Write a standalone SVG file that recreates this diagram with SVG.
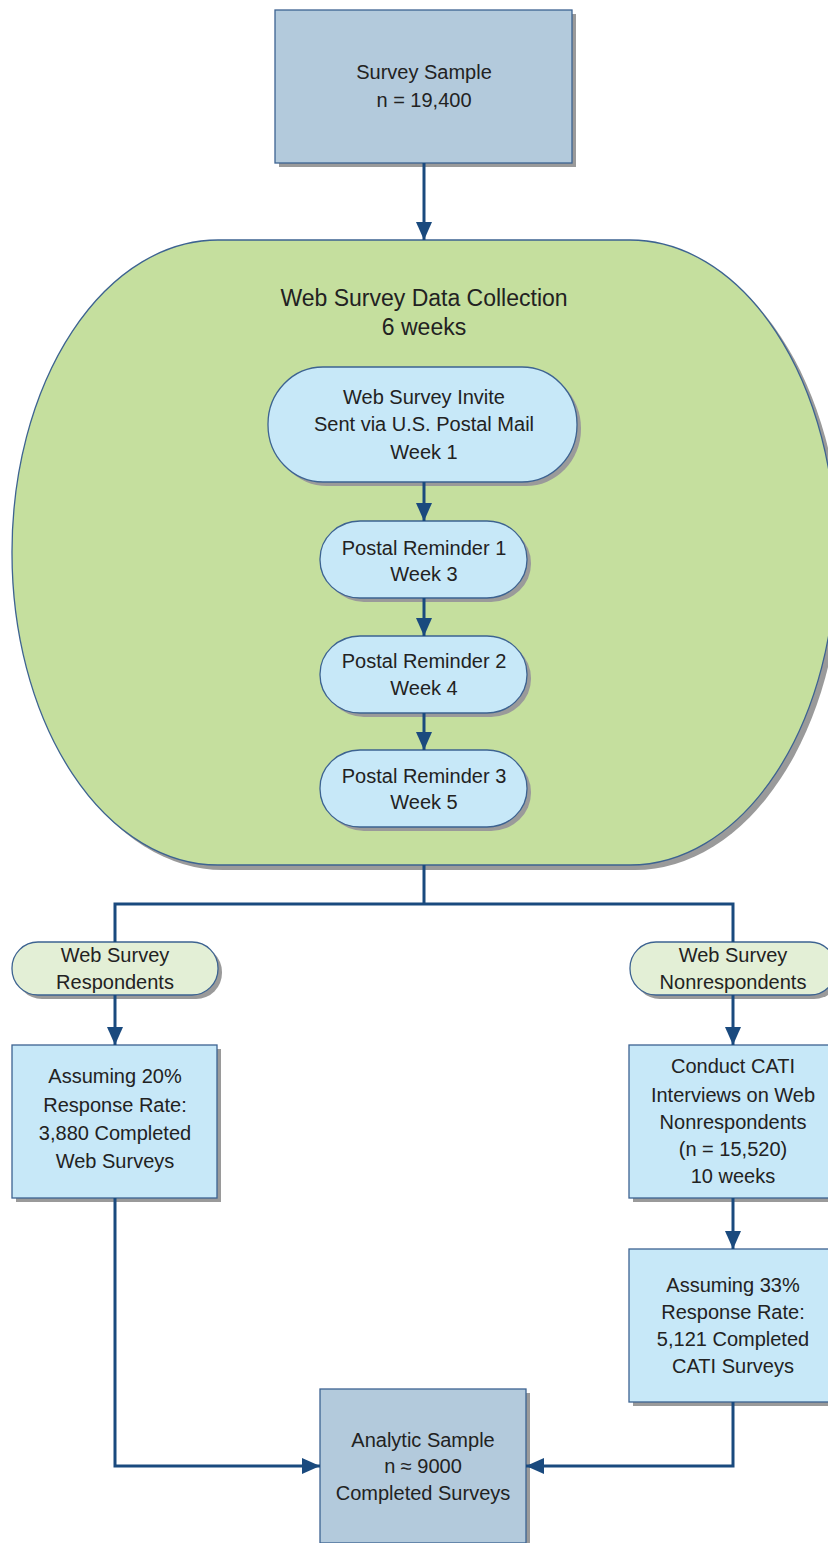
<svg xmlns="http://www.w3.org/2000/svg" width="828" height="1543" viewBox="0 0 828 1543">
<style>
text{font-family:"Liberation Sans",Arial,sans-serif;font-size:20px;fill:#222;text-anchor:middle}
.title{font-size:23px}
.sh{fill:#9a9a9a}
.dark{fill:#b3cadc;stroke:#3d6391;stroke-width:1.3}
.green{fill:#c5df9e;stroke:#3d6391;stroke-width:1.3}
.blue{fill:#c7e8f8;stroke:#3d6391;stroke-width:1.3}
.pale{fill:#e3efd6;stroke:#3d6391;stroke-width:1.3}
.conn{fill:none;stroke:#1a4a7e;stroke-width:3}
</style>
<defs>
<marker id="ah" markerUnits="userSpaceOnUse" markerWidth="18" markerHeight="16" refX="18" refY="8" orient="auto">
<path d="M0,0 L18,8 L0,16 z" fill="#1a4a7e"/>
</marker>
</defs>
<rect width="828" height="1543" fill="#ffffff"/>

<g id="survey-sample">
<rect class="sh" x="279" y="14" width="297" height="153"/>
<rect class="dark" x="275" y="10" width="297" height="153"/>
<text x="424" y="79">Survey Sample</text>
<text x="424" y="107">n = 19,400</text>
</g>

<g id="web-collection">
<rect class="sh" x="17" y="245" width="824" height="625" rx="206" ry="312"/>
<rect class="green" x="12" y="240" width="824" height="625" rx="206" ry="312"/>
<text class="title" x="424" y="306">Web Survey Data Collection</text>
<text class="title" x="424" y="335">6 weeks</text>
</g>

<g id="invite">
<rect class="sh" x="272" y="371" width="309" height="115" rx="55" ry="57"/>
<rect class="blue" x="268" y="367" width="309" height="115" rx="55" ry="57"/>
<text x="424" y="404">Web Survey Invite</text>
<text x="424" y="431">Sent via U.S. Postal Mail</text>
<text x="424" y="459">Week 1</text>
</g>

<g id="reminder1">
<rect class="sh" x="324" y="525" width="207" height="77" rx="40" ry="38"/>
<rect class="blue" x="320" y="521" width="207" height="77" rx="40" ry="38"/>
<text x="424" y="555">Postal Reminder 1</text>
<text x="424" y="581">Week 3</text>
</g>

<g id="reminder2">
<rect class="sh" x="324" y="640" width="207" height="77" rx="40" ry="38"/>
<rect class="blue" x="320" y="636" width="207" height="77" rx="40" ry="38"/>
<text x="424" y="668">Postal Reminder 2</text>
<text x="424" y="695">Week 4</text>
</g>

<g id="reminder3">
<rect class="sh" x="324" y="754" width="207" height="77" rx="40" ry="38"/>
<rect class="blue" x="320" y="750" width="207" height="77" rx="40" ry="38"/>
<text x="424" y="783">Postal Reminder 3</text>
<text x="424" y="809">Week 5</text>
</g>

<g id="respondents">
<rect class="sh" x="16" y="946" width="206" height="53" rx="26" ry="26"/>
<rect class="pale" x="12" y="942" width="206" height="53" rx="26" ry="26"/>
<text x="115" y="962">Web Survey</text>
<text x="115" y="989">Respondents</text>
</g>

<g id="nonrespondents">
<rect class="sh" x="634" y="946" width="206" height="53" rx="26" ry="26"/>
<rect class="pale" x="630" y="942" width="206" height="53" rx="26" ry="26"/>
<text x="733" y="962">Web Survey</text>
<text x="733" y="989">Nonrespondents</text>
</g>

<g id="web-completed">
<rect class="sh" x="16" y="1049" width="205" height="153"/>
<rect class="blue" x="12" y="1045" width="205" height="153"/>
<text x="115" y="1083">Assuming 20%</text>
<text x="115" y="1112">Response Rate:</text>
<text x="115" y="1140">3,880 Completed</text>
<text x="115" y="1168">Web Surveys</text>
</g>

<g id="cati">
<rect class="sh" x="633" y="1049" width="207" height="153"/>
<rect class="blue" x="629" y="1045" width="207" height="153"/>
<text x="733" y="1073">Conduct CATI</text>
<text x="733" y="1102">Interviews on Web</text>
<text x="733" y="1129">Nonrespondents</text>
<text x="733" y="1156">(n = 15,520)</text>
<text x="733" y="1183">10 weeks</text>
</g>

<g id="cati-completed">
<rect class="sh" x="633" y="1253" width="207" height="153"/>
<rect class="blue" x="629" y="1249" width="207" height="153"/>
<text x="733" y="1292">Assuming 33%</text>
<text x="733" y="1319">Response Rate:</text>
<text x="733" y="1346">5,121 Completed</text>
<text x="733" y="1373">CATI Surveys</text>
</g>

<g id="analytic">
<rect class="sh" x="324" y="1393" width="206" height="154"/>
<rect class="dark" x="320" y="1389" width="206" height="154"/>
<text x="423" y="1447">Analytic Sample</text>
<text x="423" y="1473">n ≈ 9000</text>
<text x="423" y="1500">Completed Surveys</text>
</g>

<g id="connectors">
<path class="conn" d="M424,163 V240" marker-end="url(#ah)"/>
<path class="conn" d="M424,482 V521" marker-end="url(#ah)"/>
<path class="conn" d="M424,598 V636" marker-end="url(#ah)"/>
<path class="conn" d="M424,713 V750" marker-end="url(#ah)"/>
<path class="conn" d="M424,865 V904 M115,942 V904 H733 V942"/>
<path class="conn" d="M115,995 V1045" marker-end="url(#ah)"/>
<path class="conn" d="M733,995 V1045" marker-end="url(#ah)"/>
<path class="conn" d="M733,1198 V1249" marker-end="url(#ah)"/>
<path class="conn" d="M115,1198 V1466 H320" marker-end="url(#ah)"/>
<path class="conn" d="M733,1402 V1466 H526" marker-end="url(#ah)"/>
</g>
</svg>
